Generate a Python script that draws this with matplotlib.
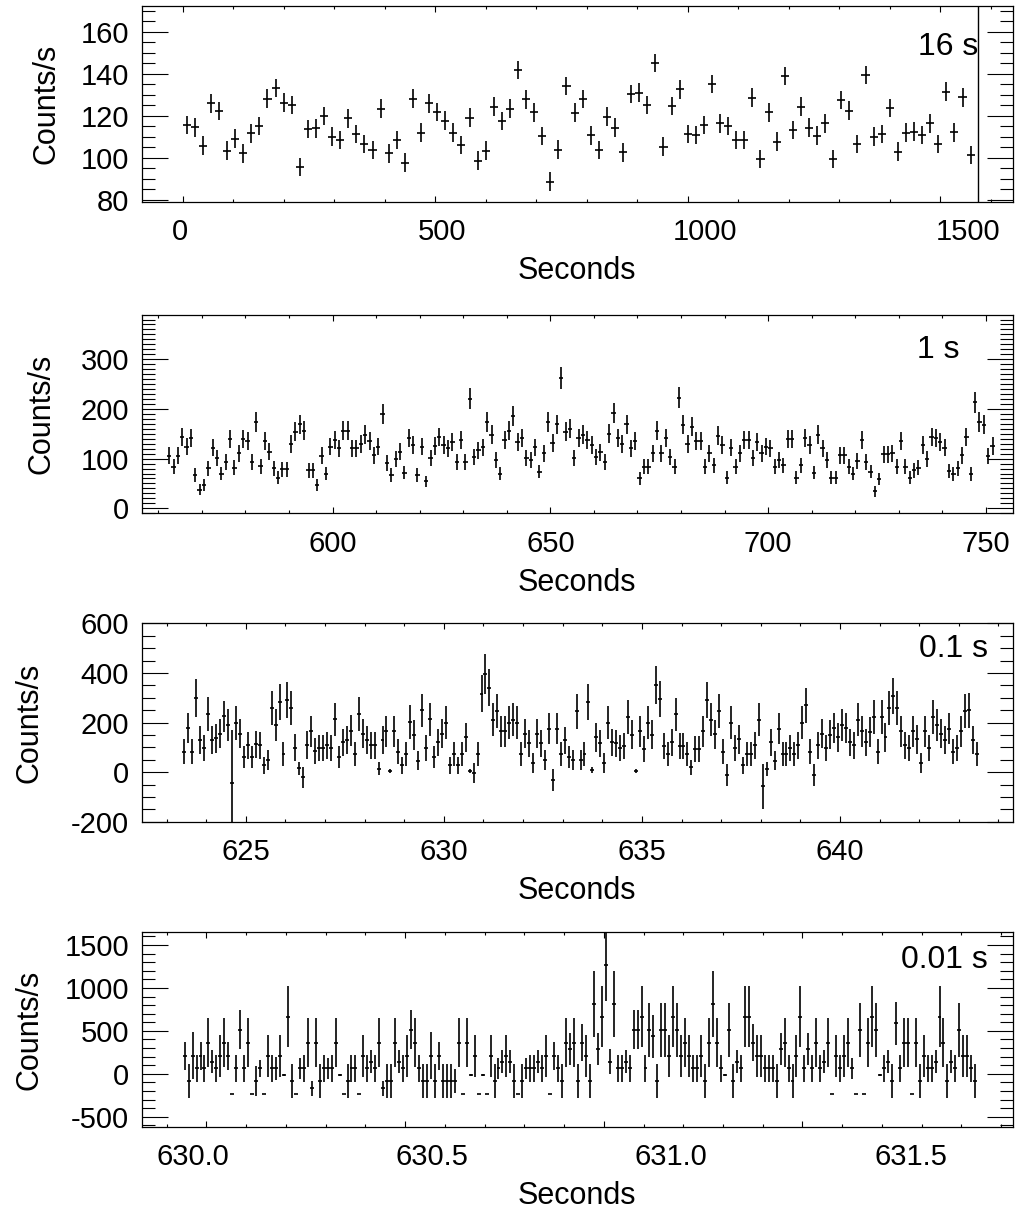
import matplotlib
matplotlib.use('Agg')
import matplotlib.pyplot as plt
from matplotlib.ticker import MultipleLocator, FixedLocator, FormatStrFormatter, NullLocator
import numpy as np

plt.rcParams['font.family'] = ['Liberation Sans', 'DejaVu Sans']
plt.rcParams['axes.unicode_minus'] = False

# ---- 16 s bins ----
bin16 = 16.0
start16 = 0.0
rate16 = [115.6, 114.6, 105.9, 126.0, 122.4, 103.5, 109.2, 102.2, 111.7, 115.1,
          128.3, 133.2, 126.3, 125.2, 95.6, 113.8, 114.1, 120.0, 110.2, 108.6,
          118.9, 111.3, 106.7, 103.8, 123.5, 102.2, 108.6, 97.8, 128.3, 112.1,
          126.0, 121.9, 117.8, 112.1, 106.2, 119.2, 98.7, 103.5, 124.4, 117.6,
          123.5, 141.9, 127.9, 121.7, 110.5, 88.7, 104.0, 134.3, 121.6, 128.1,
          110.8, 103.8, 119.7, 114.4, 102.7, 130.5, 131.1, 125.1, 145.1, 105.4,
          124.8, 132.7, 111.3, 111.0, 115.7, 135.1, 116.5, 115.2, 108.6, 108.6,
          128.7, 99.4, 121.7, 107.8, 139.0, 113.3, 124.4, 114.4, 110.6, 116.5,
          99.4, 127.6, 122.5, 106.7, 139.5, 110.2, 111.4, 123.7, 103.0, 112.1,
          112.5, 111.0, 116.5, 106.7, 131.6, 112.2, 128.9, 101.4]
err16 = 4.4
end16 = 1575

# ---- 1 s bins ----
bin1 = 1.0
start1 = 562.0
rate1 = [106, 84, 106, 143, 124, 141, 67, 37, 47, 81,
         122, 102, 70, 94, 140, 82, 111, 140, 136, 94,
         173, 85, 136, 114, 81, 62, 79, 79, 129, 154,
         169, 156, 77, 77, 47, 106, 70, 124, 138, 121,
         156, 156, 121, 121, 129, 148, 136, 107, 124, 189,
         91, 67, 99, 114, 72, 141, 127, 67, 124, 54,
         101, 126, 144,
         127, 121, 134, 94, 138, 94, 221, 104, 117, 123,
         174, 148, 97, 70, 138, 156, 185, 134, 141, 101,
         97, 123, 74, 111, 173, 131, 169, 263, 154, 160,
         101, 141, 148, 138, 127, 104, 113, 94, 150, 191,
         141, 129, 169, 121, 136, 60, 84, 84, 111, 156,
         111, 141, 104, 84, 223, 168, 129, 164, 136, 136,
         84, 111, 87, 146, 127, 62,
         122, 84, 111, 138, 138, 101, 134, 111, 124, 121,
         84, 97, 87, 140, 140, 62, 87, 142, 127, 72,
         148, 121, 97, 62, 62, 107, 107, 84, 70, 95,
         138, 94, 74, 34, 59, 109, 109, 111, 84, 136,
         84, 62, 77, 82, 127, 99, 144, 141, 134, 122,
         75, 69, 81, 107, 144, 69, 213, 174, 168, 105,
         126]
err1 = [17, 15, 17, 18, 17, 18, 14, 11, 12, 15,
        17, 16, 14, 16, 18, 15, 17, 18, 18, 16,
        20, 15, 18, 17, 15, 13, 15, 15, 18, 19,
        19, 19, 15, 15, 12, 17, 14, 17, 18, 17,
        19, 19, 17, 17, 18, 19, 18, 17, 17, 20,
        16, 14, 16, 17, 14, 18, 18, 14, 17, 12,
        16, 18, 18,
        18, 17, 18, 16, 18, 16, 21, 16, 17, 17,
        20, 19, 16, 14, 18, 19, 20, 18, 18, 16,
        16, 17, 14, 17, 20, 18, 19, 22, 19, 19,
        16, 18, 19, 18, 18, 16, 17, 16, 19, 20,
        18, 18, 19, 17, 18, 13, 15, 15, 17, 19,
        17, 18, 16, 15, 21, 19, 18, 19, 18, 18,
        15, 17, 15, 19, 18, 13,
        17, 15, 17, 18, 18, 16, 18, 17, 17, 17,
        15, 16, 15, 18, 18, 13, 15, 18, 18, 14,
        19, 17, 16, 13, 13, 17, 17, 15, 14, 16,
        18, 16, 14, 11, 13, 17, 17, 17, 15, 18,
        15, 13, 15, 15, 18, 16, 18, 18, 18, 17,
        14, 14, 15, 17, 18, 14, 21, 20, 19, 16,
        18]

# ---- 0.1 s bins ----
bin01 = 0.1
start01 = 623.4
rate01 = [83, 178, 83, 299, 131, 97, 234, 131, 137, 155,
          225, 191, -44, 198, 155, 61, 108, 61, 112, 108,
          27, 50, 259, 189, 283, 73, 292, 259, 98, 16,
          -20, 108, 164, 85, 97, 97, 108, 97, 213, 61,
          121, 131, 168, 74, 234, 155, 131, 108, 108, 13,
          131, 164, 3, 164, 83, 27, 74, 202, 151, 47,
          249, 97, 213, 61, 121,
          155, 199, 27, 74, 27, 74, 141, 4, -3, 74,
          316, 397, 341, 211, 246, 164, 164, 199, 211, 199,
          74, 155, 117, 36, 155, 117, 50, 175, -30, 175,
          74, 128, 61, 50, 245, 50, 74, 283, 9, 141,
          117, 38, 199, 121, 117, 97, 105, 222, 151, 4,
          164, 94, 199, 151, 353, 294, 105, 74, 121, 233,
          105, 105, 74, 20, 94, 94, 164, 292, 211, 152,
          246, 83, -11,
          199, 97, 132, 27, 74, 74, 108, 211, -57, 13,
          121, 47, 175, 74, 74, 97, 74, 108, 199, 269,
          83, -11, 108, 155, 97, 151, 178, 141, 189, 178,
          121, 108, 211, 164, 121, 162, 222, 83, 222, 141,
          259, 306, 259, 164, 108, 97, 164, 132, 36, 164,
          97, 222, 189, 155, 131, 175, 83, 97, 164, 246,
          249, 131, 74]
err01 = [49, 62, 49, 77, 56, 52, 68, 56, 59, 59,
         64, 64, 213, 67, 59, 45, 53, 45, 56, 53,
         36, 40, 69, 65, 72, 48, 72, 69, 54, 27,
         42, 56, 61, 51, 52, 52, 53, 52, 67, 45,
         54, 56, 61, 48, 68, 59, 56, 53, 53, 26,
         56, 61, 8, 61, 51, 36, 48, 67, 61, 40,
         66, 52, 67, 45, 54,
         59, 66, 36, 48, 36, 48, 58, 9, 40, 48,
         74, 80, 76, 67, 69, 61, 61, 66, 67, 66,
         48, 59, 54, 40, 59, 54, 40, 62, 44, 62,
         48, 56, 45, 40, 69, 40, 48, 71, 12, 58,
         54, 40, 66, 54, 54, 52, 53, 68, 59, 9,
         61, 51, 66, 59, 77, 72, 53, 48, 54, 68,
         53, 53, 48, 30, 51, 51, 61, 72, 67, 59,
         69, 51, 44,
         66, 52, 57, 36, 48, 48, 53, 67, 90, 27,
         54, 40, 62, 48, 48, 52, 48, 53, 66, 71,
         51, 44, 53, 59, 52, 59, 62, 58, 65, 62,
         54, 53, 67, 61, 54, 61, 68, 51, 68, 58,
         69, 73, 69, 61, 53, 52, 61, 57, 40, 61,
         52, 68, 65, 59, 56, 62, 51, 52, 61, 69,
         69, 56, 48]

# ---- 0.01 s bins ----
bin001 = 0.01
start001 = 629.94
rate001 = [210, -85, 210, 62, 210, 62, 361, 140, 62, 210,
           361, 210, -241, 62, 513, 62, 361, -241, -85, 62,
           -241, 210, 62, 62, 210, -16, 664, -85, -241, 62,
           62, 361, -171, 361, -85, 62, 62, 62, 361, -16,
           -241, -85, 62, 62, -241, 210, 62, 140, 62, 361,
           -171, -85, -85, 361, 140, 62, 210, 513, 361, 62,
           -85, -85, 210, -85,
           210, -85, -85, -85, -85, 361, -241, 361, -16, 210,
           -241, -16, -241, 210, -85, 62, 140, 210, 140, -85,
           -241, -85, 62, 62, 62, 140, 62, 210, -241, 210,
           62, -85, 361, 287, 361, -85, 361, 210, -85, 812,
           287, 664, 1266, 140, 812, 62, 62, 140, 62, 513,
           513, 664, 62, 513, 435, -85, 513, 513, 210, 664,
           513, 210, 361, 210, 62, 62, 210, -85, 361, 812,
           361, 62, -16,
           513, -85, 140, 62, 664, 664, 361, 210, 210, 62,
           62, 62, -85, 287, 361, 62, -85, 210, 664, 62,
           287, 62, 361, 62, 140, 361, -241, 210, 62, 210,
           361, 62, -241, 513, -241, 361, 664, 513, -16, 62,
           140, -85, 586, 62, 361, 361, -241, 361, -85, 210,
           62, 62, 140, 664, 361, -85, 140, 62, 513, 210,
           210, 62, -85]
err001 = [165, 202, 272, 159, 165, 159, 287, 136, 159, 243,
          287, 165, 0, 159, 227, 159, 287, 0, 175, 97,
          0, 243, 159, 130, 243, 8, 355, 202, 0, 126,
          159, 287, 85, 287, 202, 159, 126, 159, 287, 8,
          0, 202, 159, 159, 0, 243, 159, 136, 159, 287,
          85, 202, 202, 287, 136, 159, 243, 227, 287, 159,
          202, 202, 272, 202,
          165, 202, 202, 202, 142, 287, 0, 287, 8, 243,
          0, 8, 0, 243, 202, 126, 136, 243, 136, 202,
          0, 202, 126, 159, 159, 136, 159, 243, 0, 165,
          159, 202, 287, 184, 287, 202, 214, 243, 202, 382,
          184, 355, 420, 146, 382, 159, 159, 136, 159, 227,
          227, 355, 159, 316, 252, 202, 316, 316, 243, 355,
          316, 243, 287, 243, 159, 159, 243, 202, 287, 382,
          287, 159, 8,
          316, 202, 136, 159, 355, 355, 214, 243, 243, 159,
          159, 159, 202, 184, 287, 159, 202, 243, 355, 159,
          184, 159, 287, 159, 136, 287, 0, 243, 159, 243,
          287, 126, 0, 316, 0, 287, 355, 316, 8, 159,
          136, 202, 252, 159, 287, 287, 0, 287, 202, 243,
          159, 159, 136, 355, 287, 202, 136, 159, 316, 243,
          243, 159, 202]

# the printed tick labels of the top and bottom panels do not sit on the
# tick marks in the original figure: label value = t0 + a + b*(t - t0)
relabel16 = (0.0, 5.52, 0.9614)
relabel001 = (630.0, 0.0286, 0.8304)


def centres(start, width, n):
    return start + width * (np.arange(n) + 0.5)


FS = 21
fig = plt.figure(figsize=(10.18, 12.14), dpi=100)


def panel(rect, t, r, e, half, xlim, ylim, xmaj, xmin, ymaj, ymin, tag, tagpos, ylab_x,
          relabel=None, fmt=None):
    ax = fig.add_axes(rect)
    ax.errorbar(t, r, yerr=e, xerr=half, fmt='none', ecolor='black',
                elinewidth=1.2, capsize=0)
    ax.set_xlim(*xlim)
    ax.set_ylim(*ylim)
    ax.xaxis.set_major_locator(FixedLocator(xmaj))
    ax.xaxis.set_minor_locator(MultipleLocator(xmin))
    ax.yaxis.set_major_locator(MultipleLocator(ymaj))
    ax.yaxis.set_minor_locator(MultipleLocator(ymin))
    ax.tick_params(which='both', direction='in', top=True, right=True,
                   width=0.8, color='black', labelsize=FS)
    ax.tick_params(axis='x', which='major', length=4.5, pad=12)
    ax.tick_params(axis='x', which='minor', length=2.5)
    ax.tick_params(axis='y', which='major', length=18.5, pad=9)
    ax.tick_params(axis='y', which='minor', length=9.5)
    for s in ax.spines.values():
        s.set_linewidth(0.9)
    lab_ax = ax
    if relabel is not None:
        t0, a, b = relabel
        ax.tick_params(axis='x', labelbottom=False)
        lab_ax = ax.secondary_xaxis('bottom', functions=(
            lambda x: t0 + a + b * (x - t0), lambda v: t0 + (v - t0 - a) / b))
        lab_ax.xaxis.set_major_locator(FixedLocator(xmaj))
        lab_ax.xaxis.set_minor_locator(NullLocator())
        lab_ax.tick_params(length=0, labelsize=FS, pad=12)
        lab_ax.spines['bottom'].set_visible(False)
    if fmt is not None:
        lab_ax.xaxis.set_major_formatter(FormatStrFormatter(fmt))
    lab_ax.set_xlabel('Seconds', fontsize=FS + 1, labelpad=7)
    ax.set_ylabel('Counts/s', fontsize=FS + 1)
    ax.yaxis.set_label_coords(ylab_x, 0.5)
    ax.text(tagpos[0], tagpos[1], tag, transform=ax.transAxes, fontsize=FS + 2,
            ha='right', va='center')
    return ax


L, W = 0.1392, 0.8559

ax1 = panel([L, 0.8339, W, 0.1614], centres(start16, bin16, len(rate16)), rate16,
            err16, bin16 / 2, (-81, 1644), (79.2, 172.5), [0, 500, 1000, 1500], 100, 20, 5,
            '16 s', (0.960, 0.79), -0.092, relabel=relabel16)
ax1.axvline(end16, color='black', lw=1.0)

ax2 = panel([L, 0.5772, W, 0.1633], centres(start1, bin1, len(rate1)), rate1,
            err1, bin1 / 2, (556.2, 756.2), (-10, 389), [600, 650, 700, 750], 10, 100, 10,
            '1 s', (0.939, 0.824), -0.098)

ax3 = panel([L, 0.3231, W, 0.1634], centres(start01, bin01, len(rate01)), rate01,
            err01, bin01 / 2, (622.37, 644.37), (-200, 600), [625, 630, 635, 640], 1, 200, 50,
            '0.1 s', (0.971, 0.870), -0.112)

ax4 = panel([L, 0.0719, W, 0.1601], centres(start001, bin001, len(rate001)), rate001,
            err001, bin001 / 2, (629.837, 632.03), (-617, 1648),
            [630.0, 630.5, 631.0, 631.5], 0.1, 500, 100,
            '0.01 s', (0.971, 0.858), -0.112, relabel=relabel001, fmt='%.1f')

fig.savefig('out.png', dpi=100)
